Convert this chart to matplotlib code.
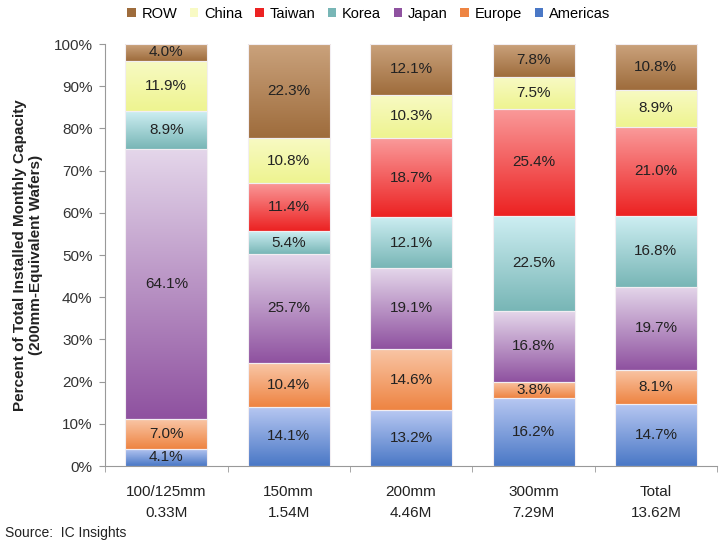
import numpy as np
import matplotlib
matplotlib.use("Agg")
import matplotlib.pyplot as plt
from matplotlib.colors import to_rgb
from matplotlib.patches import Patch

plt.rcParams['font.family'] = ['Liberation Sans', 'DejaVu Sans']

# Wafer size groups and their total capacity
groups = ['100/125mm\n0.33M', '150mm\n1.54M', '200mm\n4.46M', '300mm\n7.29M', 'Total\n13.62M']

# Regional share (%) per group, stacked bottom to top
americas = [4.1, 14.1, 13.2, 16.2, 14.7]
europe = [7.0, 10.4, 14.6, 3.8, 8.1]
japan = [64.1, 25.7, 19.1, 16.8, 19.7]
korea = [8.9, 5.4, 12.1, 22.5, 16.8]
taiwan = [0.0, 11.4, 18.7, 25.4, 21.0]
china = [11.9, 10.8, 10.3, 7.5, 8.9]
row = [4.0, 22.3, 12.1, 7.8, 10.8]

series = [
    ('Americas', americas, '#b8c8f2', '#4a78c6'),
    ('Europe', europe, '#f9c6a6', '#ee8442'),
    ('Japan', japan, '#e4d6ea', '#8f52a0'),
    ('Korea', korea, '#cdeef2', '#78b6b6'),
    ('Taiwan', taiwan, '#fa9a9a', '#ec2222'),
    ('China', china, '#f8fac4', '#eef490'),
    ('ROW', row, '#caa27c', '#9e6c3c'),
]

fig = plt.figure(figsize=(7.2, 5.41), dpi=100)
ax = fig.add_axes([0.146, 0.1386, 0.85, 0.78])

x = np.arange(len(groups))
width = 0.67
bottoms = np.zeros(len(groups))

for name, vals, light, dark in series:
    c_top = np.array(to_rgb(light))
    c_bot = np.array(to_rgb(dark))
    for i, v in enumerate(vals):
        if v <= 0:
            continue
        b = bottoms[i]
        # vertical gradient, light at the top of each segment
        t = np.linspace(0, 1, 64)[:, None]
        grad = (c_top * (1 - t) + c_bot * t)[:, None, :]
        ax.imshow(grad, extent=(x[i] - width / 2, x[i] + width / 2, b, b + v),
                  aspect='auto', interpolation='bilinear', zorder=2)
        ax.add_patch(plt.Rectangle((x[i] - width / 2, b), width, v, fill=False,
                                   edgecolor='#f2eef2', linewidth=0.8, zorder=3))
        ax.text(x[i], b + v / 2, f'{v:.1f}%', ha='center', va='center',
                fontsize=11, color='#222222', zorder=4)
    bottoms += np.array(vals)

ax.set_xlim(-0.5, len(groups) - 0.5)
ax.set_ylim(0, 100)

ax.set_yticks(np.arange(0, 101, 10))
ax.set_yticklabels([f'{v}%' for v in range(0, 101, 10)], fontsize=11, color='#333333')
ax.set_xticks(x)
ax.set_xticklabels(groups, fontsize=11, color='#222222', linespacing=1.55)
ax.set_xticks(np.arange(-0.5, len(groups)), minor=True)
ax.tick_params(axis='x', which='major', length=0, pad=14)
ax.tick_params(axis='x', which='minor', length=4, color='#999999', direction='out')
ax.tick_params(axis='y', length=4, color='#999999', direction='out', pad=5)

for s in ['top', 'right']:
    ax.spines[s].set_visible(False)
for s in ['left', 'bottom']:
    ax.spines[s].set_color('#999999')
    ax.spines[s].set_linewidth(0.8)

ax.set_ylabel('Percent of Total Installed Monthly Capacity\n(200mm-Equivalent Wafers)',
              fontsize=11, fontweight='bold', color='#222222', labelpad=8, linespacing=1.1)

handles = [Patch(facecolor=light if name == 'China' else dark, edgecolor='none')
           for name, vals, light, dark in reversed(series)]
labels = [name for name, *_ in reversed(series)]
fig.legend(handles, labels, loc='center', bbox_to_anchor=(0.512, 0.975), ncol=7,
           frameon=False, fontsize=10.5, handlelength=0.6, handleheight=0.6,
           handletextpad=0.4, columnspacing=0.85)

fig.text(0.007, 0.008, 'Source:  IC Insights', fontsize=10, color='#222222')

fig.savefig('out.png', dpi=100)
